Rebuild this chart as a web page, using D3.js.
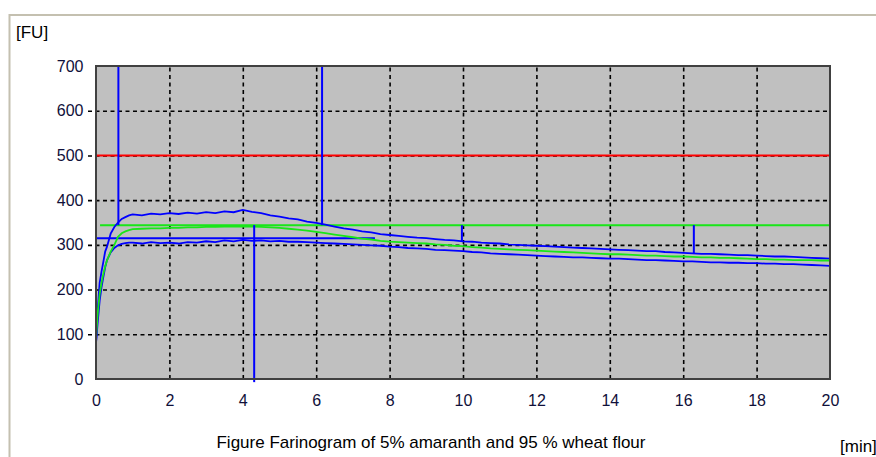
<!DOCTYPE html>
<html>
<head>
<meta charset="utf-8">
<script src="https://cdn.jsdelivr.net/npm/d3@7"></script>
<style>
html,body{margin:0;padding:0;background:#fff;}
svg{display:block;}
text{font-family:"Liberation Sans",Arial,sans-serif;}
</style>
</head>
<body>
<svg id="chart" width="876" height="457"></svg>
<script>
// ---- data ----
const timesMin = [0,0.05,0.1,0.15,0.2,0.25,0.3,0.4,0.5,0.6,0.7,0.8,0.9,
  1.0,1.25,1.5,1.75,2.0,2.25,2.5,2.75,3.0,3.25,3.5,3.75,4.0,4.25,4.5,4.75,5.0,5.25,5.5,5.75,
  6.0,6.25,6.5,6.75,7.0,7.25,7.5,7.75,8.0,8.25,8.5,8.75,9.0,9.25,9.5,9.75,10.0,10.25,10.5,10.75,
  11.0,11.25,11.5,11.75,12.0,12.25,12.5,12.75,13.0,13.25,13.5,13.75,14.0,14.25,14.5,14.75,
  15.0,15.25,15.5,15.75,16.0,16.25,16.5,16.75,17.0,17.25,17.5,17.75,18.0,18.25,18.5,18.75,
  19.0,19.25,19.5,19.75,20.0];
const upperBlueFU = [80,160,215,240,262,285,296,325,340,350,358,362,366,
  368,366,370,368,371,369,372,370,373,371,375,373,378,374,371,366,363,359,357,352,
  349,345,341,337,334,330,328,324,322,320,318,316,315,313,311,310,308,307,305,304,
  303,301,300,299,298,297,296,295,294,293,292,291,290,289,288,287,
  286,286,284,283,282,281,280,280,279,278,277,277,276,275,274,274,
  273,272,271,270,269];
const lowerBlueFU = [80,130,175,205,228,250,266,283,293,299,302,304,305,
  305,303,306,304,305,303,306,305,308,306,310,308,311,309,310,308,309,307,307,306,
  305,304,303,302,301,300,299,298,296,295,293,292,291,289,288,287,286,284,283,281,
  280,279,278,277,276,275,274,273,272,272,271,270,269,269,268,267,
  266,266,265,264,263,263,262,261,261,260,260,259,259,258,258,257,
  257,256,255,254,253];
const greenFU = [90,150,190,215,235,252,265,285,300,318,326,330,333,
  335,336,337,337,338,338,339,339,340,340,341,341,341,341,340,339,338,336,334,332,
  329,326,323,320,317,314,312,309,307,306,305,304,303,301,300,298,297,295,294,292,
  291,290,289,288,287,286,285,284,283,282,281,280,279,279,278,277,
  276,276,275,274,274,273,272,272,271,271,270,269,268,268,267,267,
  266,266,266,265,265];
const yTicks = [0,100,200,300,400,500,600,700];
const yGridTicks = [100,200,300,400,500,600];
const xTicks = [0,2,4,6,8,10,12,14,16,18,20];
const xGridTicks = [2,4,6,8,10,12,14,16,18];
const consistencyFU = 500;
const greenLevelFU = 344;
const greenLevelStart = 0.11;
const blueLevelFU = 315;
const blueLevelEnd = 7.6;
const markerTimes = [0.61, 6.16, 4.31, 9.97, 16.29];
const markerFromFU = [344, 344, 344, 344, 344];
const markerToFU = [700, 700, -7, 307, 280];
const yUnit = "[FU]";
const xUnit = "[min]";
const caption = "Figure Farinogram of 5% amaranth and 95 % wheat flour";

// ---- drawing ----
const svg = d3.select("#chart");
const x = d3.scaleLinear().domain([0,20]).range([96,830]);
const y = d3.scaleLinear().domain([0,700]).range([379,66]);

// outer panel border
svg.append("path").attr("d","M9.5,457 V15 H876").attr("fill","none").attr("stroke","#c4c0b0").attr("stroke-width",2);

// plot background
svg.append("rect").attr("x",x(0)).attr("y",y(700)).attr("width",x(20)-x(0)).attr("height",y(0)-y(700)).attr("fill","#c0c0c0");

// horizontal grid (extends left of frame)
const gy = svg.append("g").attr("transform","translate(88,0)")
  .call(d3.axisLeft(y).tickValues(yGridTicks).tickSize(-(x(20)-88)).tickFormat(""));
gy.select(".domain").remove();
gy.selectAll("line").attr("stroke","#000").attr("stroke-width",1.6).attr("stroke-dasharray","4,3.5");

// vertical grid
const gx = svg.append("g").attr("transform",`translate(0,${y(0)})`)
  .call(d3.axisBottom(x).tickValues(xGridTicks).tickSize(-(y(0)-y(700))).tickFormat(""));
gx.select(".domain").remove();
gx.selectAll("line").attr("stroke","#000").attr("stroke-width",1.6).attr("stroke-dasharray","4,3.5");

// consistency line
svg.append("line").attr("x1",x(0)).attr("x2",x(20)).attr("y1",y(consistencyFU)).attr("y2",y(consistencyFU))
  .attr("stroke","#ff0000").attr("stroke-width",2);

// green level line
svg.append("line").attr("x1",x(greenLevelStart)).attr("x2",x(20)).attr("y1",y(greenLevelFU)).attr("y2",y(greenLevelFU))
  .attr("stroke","#19e619").attr("stroke-width",2);

// blue level line
svg.append("line").attr("x1",x(0)).attr("x2",x(blueLevelEnd)).attr("y1",y(blueLevelFU)).attr("y2",y(blueLevelFU))
  .attr("stroke","#0000ff").attr("stroke-width",2);

const line = d3.line().x(d=>x(d[0])).y(d=>y(d[1]));
const mk = arr => timesMin.map((t,i)=>[t,arr[i]]);

svg.append("path").attr("d",line(mk(lowerBlueFU))).attr("fill","none").attr("stroke","#0000ff").attr("stroke-width",1.8);
svg.append("path").attr("d",line(mk(upperBlueFU))).attr("fill","none").attr("stroke","#0000ff").attr("stroke-width",1.8);
svg.append("path").attr("d",line(mk(greenFU))).attr("fill","none").attr("stroke","#19e619").attr("stroke-width",1.8);

// markers
svg.selectAll(".marker").data(markerTimes).enter().append("line")
  .attr("x1",d=>x(d)).attr("x2",d=>x(d))
  .attr("y1",(d,i)=>y(markerFromFU[i])).attr("y2",(d,i)=>y(markerToFU[i]))
  .attr("stroke","#0000ff").attr("stroke-width",2);

// frame
svg.append("rect").attr("x",x(0)).attr("y",y(700)).attr("width",x(20)-x(0)).attr("height",y(0)-y(700))
  .attr("fill","none").attr("stroke","#404040").attr("stroke-width",2);

// axis labels
const ay = svg.append("g").attr("transform","translate(88,0)")
  .call(d3.axisLeft(y).tickValues(yTicks).tickSize(0).tickPadding(4.5).tickFormat(d3.format("d")));
ay.select(".domain").remove();
ay.selectAll("text").attr("font-size",16).attr("fill","#10103a").attr("font-family","Liberation Sans, Arial, sans-serif");

const ax = svg.append("g").attr("transform",`translate(0,${y(0)})`)
  .call(d3.axisBottom(x).tickValues(xTicks).tickSize(0).tickPadding(16).tickFormat(d3.format("d")));
ax.select(".domain").remove();
ax.selectAll("text").attr("font-size",16).attr("fill","#10103a").attr("font-family","Liberation Sans, Arial, sans-serif");

svg.append("text").attr("x",16).attr("y",38).attr("font-size",17).attr("fill","#000").text(yUnit);
svg.append("text").attr("x",840).attr("y",452).attr("font-size",17).attr("fill","#000").text(xUnit);
svg.append("text").attr("x",431).attr("y",448).attr("text-anchor","middle").attr("font-size",17).attr("fill","#000").text(caption);
</script>
</body>
</html>
